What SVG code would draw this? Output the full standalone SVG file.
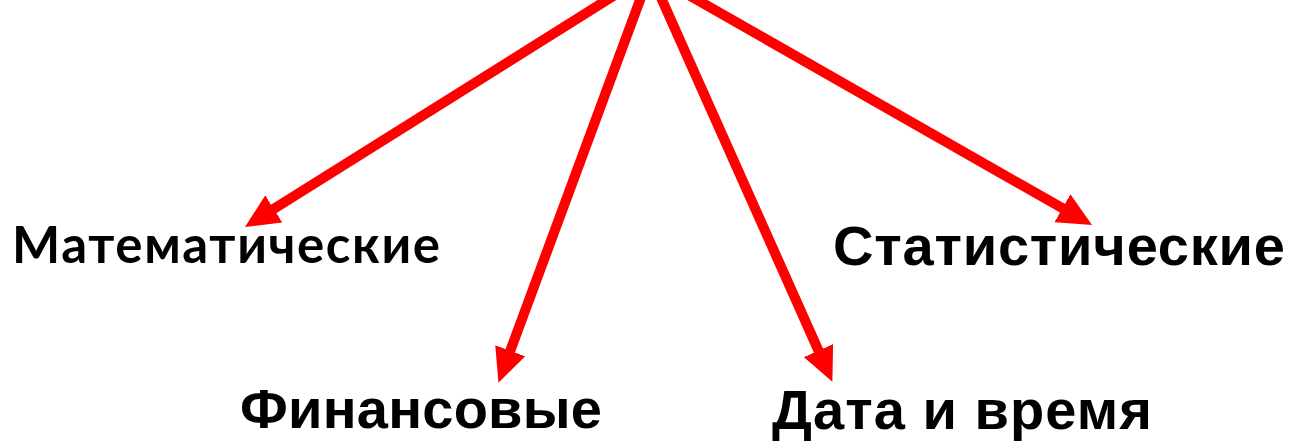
<svg xmlns="http://www.w3.org/2000/svg" width="1291" height="447" viewBox="0 0 1291 447">
  <style>
    .conn { stroke: #ff0000; stroke-width: 10; fill: none; marker-end: url(#head); }
    .lbl { font-family: "Liberation Sans", Arial, sans-serif; font-weight: bold; font-size: 56px; fill: #000; }
    .lbl2 { font-family: Lato, "Open Sans", sans-serif; font-weight: bold; font-size: 51px; fill: #000; }
  </style>
  <defs>
    <marker id="head" markerUnits="userSpaceOnUse" markerWidth="34" markerHeight="32" refX="12" refY="16" orient="auto" viewBox="0 0 34 32">
      <path d="M0,0 L34,16 L0,32 z" fill="#ff0000"/>
    </marker>
  </defs>
  <rect width="1291" height="447" fill="#ffffff"/>
  <g id="connectors">
    <line class="conn" x1="650" y1="-27" x2="263.6" y2="215.3"/>
    <line class="conn" x1="650" y1="-27" x2="506.1" y2="362"/>
    <line class="conn" x1="650" y1="-27" x2="823.4" y2="361.6"/>
    <line class="conn" x1="650" y1="-27" x2="1072.9" y2="214.2"/>
  </g>
  <g id="node-math">
    <text class="lbl2" x="12" y="263" textLength="428">Математические</text>
  </g>
  <g id="node-stat">
    <text class="lbl" x="833" y="265" textLength="452">Статистические</text>
  </g>
  <g id="node-fin">
    <text class="lbl" x="240" y="428" textLength="362">Финансовые</text>
  </g>
  <g id="node-date">
    <text class="lbl" x="772" y="429" textLength="380">Дата и время</text>
  </g>
</svg>
